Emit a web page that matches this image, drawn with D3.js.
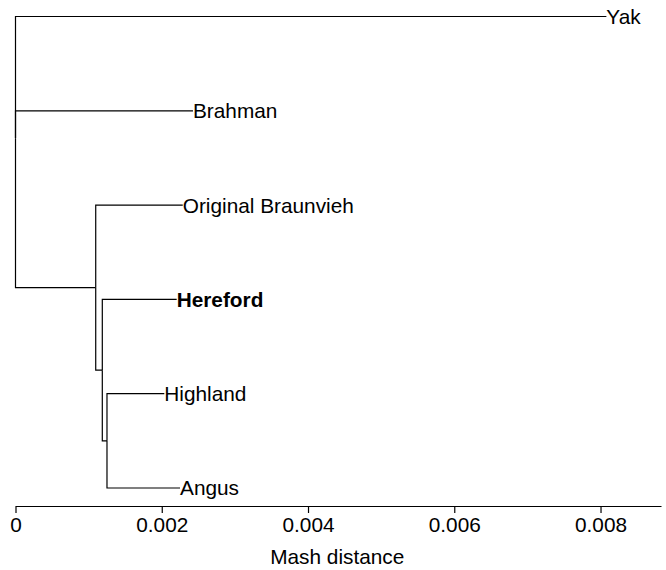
<!DOCTYPE html>
<html>
<head>
<meta charset="utf-8">
<script src="https://cdn.jsdelivr.net/npm/d3@7"></script>
<style>
  body { margin: 0; background: #fff; }
  text { font-family: "Liberation Sans", Arial, sans-serif; }
</style>
</head>
<body>
<svg width="666" height="570"></svg>
<script>
// tree nodes: id, parent, distance from root (Mash distance)
var ids       = ["root", "Yak", "Brahman", "n1", "Original Braunvieh", "n2", "Hereford", "n3", "Highland", "Angus"];
var parents   = ["",     "root", "root",   "root", "n1",               "n1", "n2",       "n2", "n3",       "n3"];
var distances = [0,      0.00808, 0.002427, 0.001097, 0.002287,        0.001187, 0.002204, 0.001251, 0.002035, 0.00225];
var boldLabels = ["Hereford"];
var tickValues = [0, 0.002, 0.004, 0.006, 0.008];

var table = ids.map(function(d, i) {
  return {id: d, parent: parents[i] || null, dist: distances[i]};
});

var svg = d3.select("svg"),
    margin = {top: 16.5, right: 5, bottom: 82, left: 15.5},
    width = +svg.attr("width"),
    height = +svg.attr("height"),
    fontSize = 20.8;

var root = d3.stratify()
    .id(function(d) { return d.id; })
    .parentId(function(d) { return d.parent; })
    (table);

d3.cluster()
    .nodeSize([1, 1])
    .separation(function() { return 1; })
    (root);

var x = d3.scaleLinear()
    .domain([0, 0.008827])
    .range([margin.left, width - margin.right]);

var y = d3.scaleLinear()
    .domain(d3.extent(root.leaves(), function(d) { return d.x; }))
    .range([margin.top, 488]);

// elbow links
svg.append("g")
    .attr("fill", "none")
    .attr("stroke", "#000")
    .attr("stroke-width", 1.2)
  .selectAll("path")
  .data(root.links())
  .enter().append("path")
    .attr("d", function(l) {
      var sx = x(l.source.data.dist), sy = y(l.source.x),
          tx = x(l.target.data.dist), ty = y(l.target.x);
      return "M" + sx + "," + sy + "V" + ty + "H" + tx;
    });

// leaf labels
svg.append("g")
  .selectAll("text")
  .data(root.leaves())
  .enter().append("text")
    .attr("x", function(d) { return x(d.data.dist); })
    .attr("y", function(d) { return y(d.x); })
    .attr("dy", "0.36em")
    .attr("font-size", fontSize)
    .attr("font-weight", function(d) { return boldLabels.indexOf(d.data.id) >= 0 ? "bold" : null; })
    .text(function(d) { return d.data.id; });

// axis
var axis = svg.append("g")
    .attr("transform", "translate(0,506)")
    .call(d3.axisBottom(x)
      .tickValues(tickValues)
      .tickSize(7)
      .tickSizeOuter(0)
      .tickPadding(4)
      .tickFormat(function(d) { return d === 0 ? "0" : d3.format(".3f")(d); }));

axis.selectAll("path, line").attr("stroke", "#000").attr("stroke-width", 1.2);
axis.selectAll("text")
    .attr("font-size", fontSize)
    .attr("fill", "#000")
    .style("font-family", "'Liberation Sans', Arial, sans-serif");

svg.append("text")
    .attr("x", x(0.0044))
    .attr("y", 564)
    .attr("text-anchor", "middle")
    .attr("font-size", fontSize)
    .text("Mash distance");
</script>
</body>
</html>
